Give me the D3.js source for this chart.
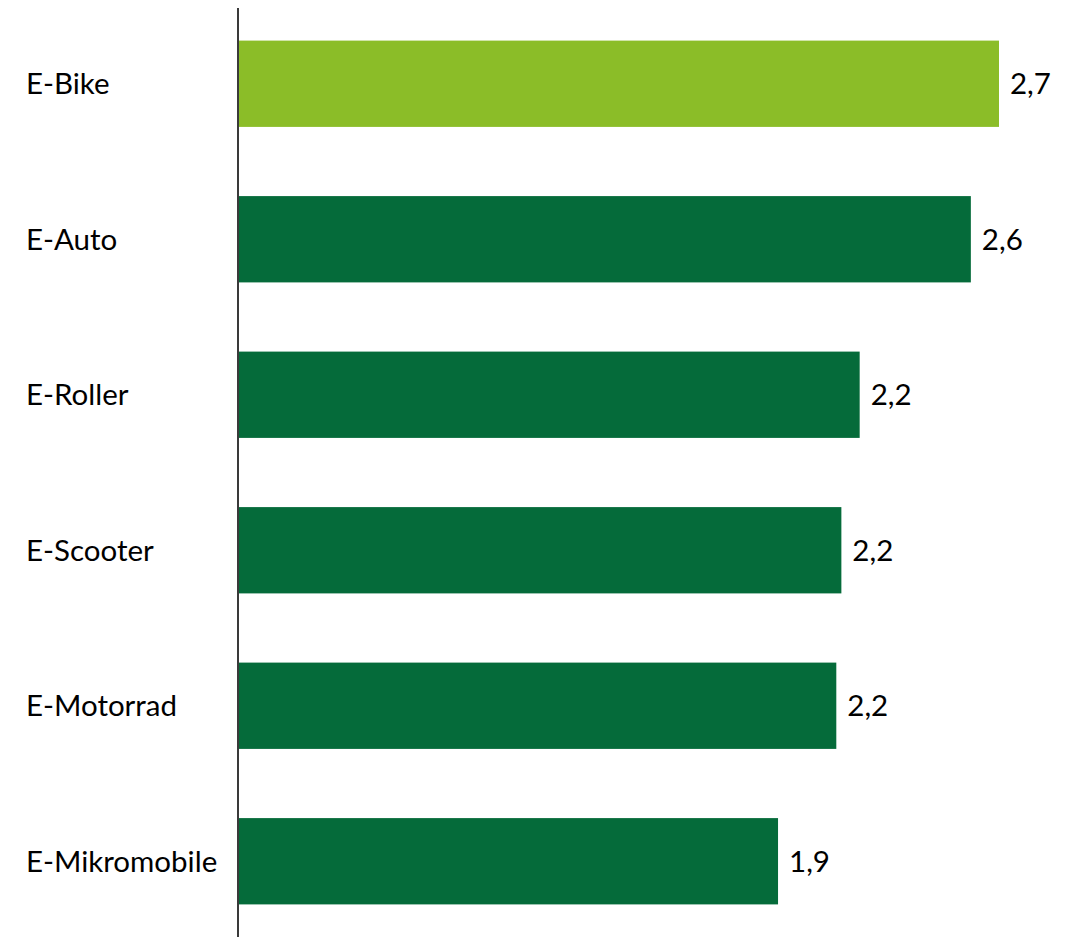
<!DOCTYPE html>
<html><head><meta charset="utf-8">
<script src="https://cdn.jsdelivr.net/npm/d3@7"></script>
<style>body{margin:0;background:#fff}svg{display:block}</style>
</head><body>
<svg id="c" width="1076" height="937"></svg>
<script>
const categories = ["E-Bike","E-Auto","E-Roller","E-Scooter","E-Motorrad","E-Mikromobile"];
const values = [2.7, 2.6, 2.205, 2.14, 2.122, 1.915];
const valueLabels = ["2,7","2,6","2,2","2,2","2,2","1,9"];
const colors = ["#8BBD28","#056B3A","#056B3A","#056B3A","#056B3A","#056B3A"];

const svg = d3.select("#c");
const font = "Lato, 'Open Sans', sans-serif";
const x = d3.scaleLinear().domain([0, 2.7]).range([239, 999]);
const y = d3.scaleBand().domain(categories).range([6, 939]).paddingInner(0.445).paddingOuter(0.2225);

svg.selectAll("rect.bar").data(categories).join("rect")
  .attr("class","bar")
  .attr("x", x(0))
  .attr("y", d => y(d))
  .attr("width", (d,i) => x(values[i]) - x(0))
  .attr("height", y.bandwidth())
  .attr("fill", (d,i) => colors[i]);

svg.selectAll("text.cat").data(categories).join("text")
  .attr("class","cat")
  .attr("x", 26)
  .attr("y", d => y(d) + y.bandwidth()/2)
  .attr("dy","0.35em")
  .attr("font-family", font)
  .attr("font-size", 29.5)
  .attr("fill","#000")
  .text(d => d);

svg.selectAll("text.val").data(categories).join("text")
  .attr("class","val")
  .attr("x", (d,i) => x(values[i]) + 11)
  .attr("y", d => y(d) + y.bandwidth()/2)
  .attr("dy","0.35em")
  .attr("font-family", font)
  .attr("font-size", 29.5)
  .attr("fill","#000")
  .text((d,i) => valueLabels[i]);

svg.append("line")
  .attr("x1", 238).attr("x2", 238)
  .attr("y1", 8).attr("y2", 937)
  .attr("stroke", "#3a3a3a").attr("stroke-width", 2);
</script>
</body></html>
